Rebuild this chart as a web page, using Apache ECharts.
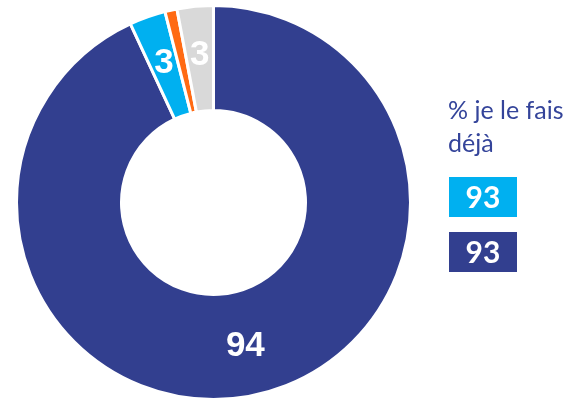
<!DOCTYPE html>
<html>
<head>
<meta charset="utf-8">
<script src="https://cdn.jsdelivr.net/npm/echarts@6/dist/echarts.min.js"></script>
<style>
  html, body { margin: 0; padding: 0; background: #ffffff; }
  #chart { width: 575px; height: 399px; }
</style>
</head>
<body>
<div id="chart"></div>
<script>
// Slice categories and values, clockwise from 12 o'clock
const categories = ['Oui, je le fais déjà', 'Oui, je compte le faire', 'Non', 'Ne sait pas'];
const values = [94, 3, 1, 3];
const showLabel = [true, true, false, true];

// Side note: heading and the two boxed figures
const noteTitle = ['% je le fais', 'déjà'];
const noteValues = [93, 93];

const sliceColors = ['#323f8f', '#00b0f0', '#ff6a13', '#d9d9d9'];
const boxColors = ['#00b0f0', '#323f8f'];

const chart = echarts.init(document.getElementById('chart'), null, { renderer: 'canvas' });

const pieData = categories.map((name, i) => ({
  name,
  value: values[i],
  itemStyle: { color: sliceColors[i] },
  label: { show: showLabel[i] }
}));

const boxTops = [177, 232];
const noteGraphics = [
  {
    type: 'text',
    left: 448,
    top: 94,
    style: {
      text: noteTitle.join('\n'),
      font: '25px Lato, "Open Sans", sans-serif',
      fill: '#34449a',
      lineHeight: 33
    }
  }
];
noteValues.forEach((v, i) => {
  noteGraphics.push({
    type: 'group',
    left: 449,
    top: boxTops[i],
    children: [
      {
        type: 'rect',
        shape: { x: 0, y: 0, width: 68, height: 40 },
        style: { fill: boxColors[i] }
      },
      {
        type: 'text',
        x: 34,
        y: 21,
        style: {
          text: String(v),
          font: 'bold 30px Lato, "Open Sans", sans-serif',
          fill: '#ffffff',
          align: 'center',
          verticalAlign: 'middle'
        }
      }
    ]
  });
});

chart.setOption({
  animation: false,
  backgroundColor: '#ffffff',
  graphic: noteGraphics,
  series: [{
    type: 'pie',
    center: [213.5, 202.5],
    radius: [92, 197],
    startAngle: 90,
    clockwise: true,
    avoidLabelOverlap: false,
    labelLayout: { hideOverlap: false },
    itemStyle: { borderColor: '#ffffff', borderWidth: 3 },
    label: {
      position: 'inside',
      formatter: '{c}',
      color: '#ffffff',
      fontFamily: '"Liberation Sans", Arial, sans-serif',
      fontWeight: 'bold',
      fontSize: 35
    },
    labelLine: { show: false },
    emphasis: { disabled: true },
    data: pieData
  }]
});
</script>
</body>
</html>
